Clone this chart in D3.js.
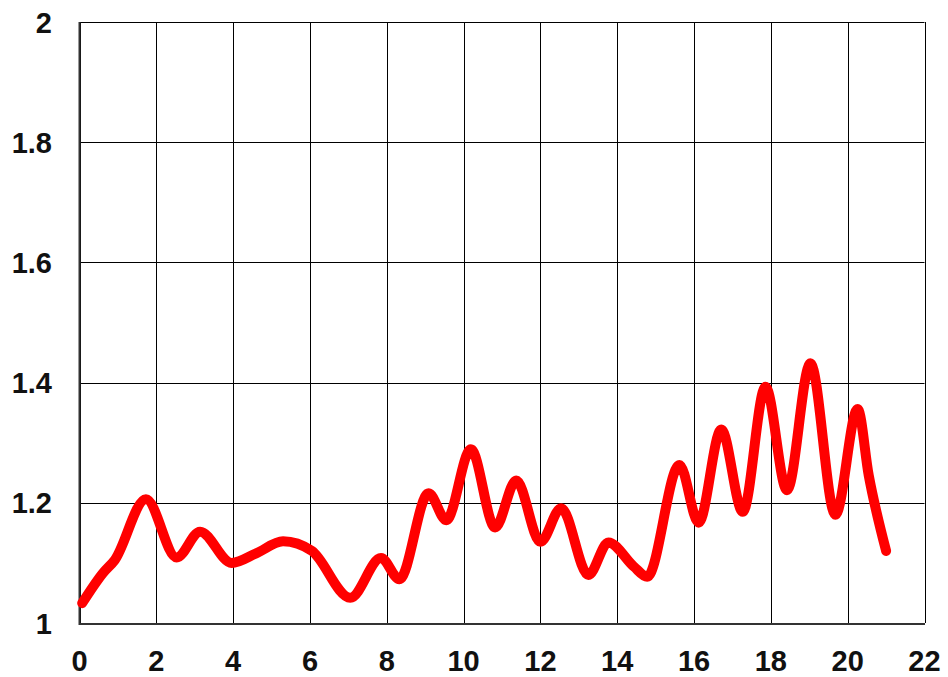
<!DOCTYPE html>
<html>
<head>
<meta charset="utf-8">
<script src="https://cdn.jsdelivr.net/npm/d3@7"></script>
<style>
  html, body { margin: 0; padding: 0; background: #fff; }
  svg { display: block; }
  .tick-label { font-family: "Liberation Sans", Arial, sans-serif; font-weight: bold; font-size: 29px; fill: #111; }
</style>
</head>
<body>
<script>
// values (peaks, troughs and shoulders)
const xs = [0.07, 0.61, 0.92, 1.73, 2.53, 3.14, 3.96, 4.6, 5.3, 6.05, 7.05, 7.85, 8.33, 9.09, 9.55, 10.19, 10.82,
  11.37, 12.0, 12.54, 13.25, 13.77, 14.43, 14.78, 15.62, 16.12, 16.71, 17.27, 17.86, 18.42, 19.03, 19.68, 20.26, 20.55, 21.0]
const ys = [1.033, 1.083, 1.105, 1.206, 1.109, 1.152, 1.100, 1.116, 1.136, 1.120, 1.042, 1.108, 1.073, 1.216, 1.171, 1.289, 1.159,
  1.237, 1.135, 1.191, 1.080, 1.134, 1.094, 1.077, 1.263, 1.167, 1.322, 1.185, 1.393, 1.221, 1.432, 1.180, 1.356, 1.245, 1.12]
const xTicks = [0, 2, 4, 6, 8, 10, 12, 14, 16, 18, 20, 22]
const yTicks = [1, 1.2, 1.4, 1.6, 1.8, 2]

const w = 948, h = 677
const padL = 79.5, padR = 924.5, padT = 22, padB = 623

const svg = d3.select('body').append('svg')
  .attr('width', w)
  .attr('height', h)

const x = d3.scaleLinear().domain([0, 22]).range([padL, padR])
const y = d3.scaleLinear().domain([1, 2]).range([padB, padT])

// grid
svg.append('g').selectAll('line')
  .data(xTicks)
  .join('line')
  .attr('x1', d => Math.round(x(d)) + 0.5)
  .attr('x2', d => Math.round(x(d)) + 0.5)
  .attr('y1', padT)
  .attr('y2', padB)
  .attr('stroke', '#000')
  .attr('stroke-width', 1)

svg.append('g').selectAll('line')
  .data(yTicks)
  .join('line')
  .attr('x1', padL)
  .attr('x2', padR)
  .attr('y1', d => Math.round(y(d)) + 0.5)
  .attr('y2', d => Math.round(y(d)) + 0.5)
  .attr('stroke', '#000')
  .attr('stroke-width', 1)

// axis lines
svg.append('line')
  .attr('x1', padL).attr('x2', padR + 0.5)
  .attr('y1', padB + 1).attr('y2', padB + 1)
  .attr('stroke', '#333').attr('stroke-width', 2)
svg.append('line')
  .attr('x1', padL).attr('x2', padL)
  .attr('y1', padT).attr('y2', padB + 2)
  .attr('stroke', '#333').attr('stroke-width', 2)

// tick labels
svg.append('g').selectAll('text')
  .data(xTicks)
  .join('text')
  .attr('class', 'tick-label')
  .attr('x', d => x(d))
  .attr('y', 671)
  .attr('text-anchor', 'middle')
  .text(d => d)

svg.append('g').selectAll('text')
  .data(yTicks)
  .join('text')
  .attr('class', 'tick-label')
  .attr('x', 52)
  .attr('y', d => y(d) + 10.5)
  .attr('text-anchor', 'end')
  .text(d => d)

// curve
const pts = xs.map((v, i) => [v, ys[i]])
const line = d3.line()
  .x(d => x(d[0]))
  .y(d => y(d[1]))
  .curve(d3.curveMonotoneX)

svg.append('path')
  .datum(pts)
  .attr('d', line)
  .attr('fill', 'none')
  .attr('stroke', '#ff0000')
  .attr('stroke-width', 10)
  .attr('stroke-linecap', 'round')
  .attr('stroke-linejoin', 'round')
</script>
</body>
</html>
